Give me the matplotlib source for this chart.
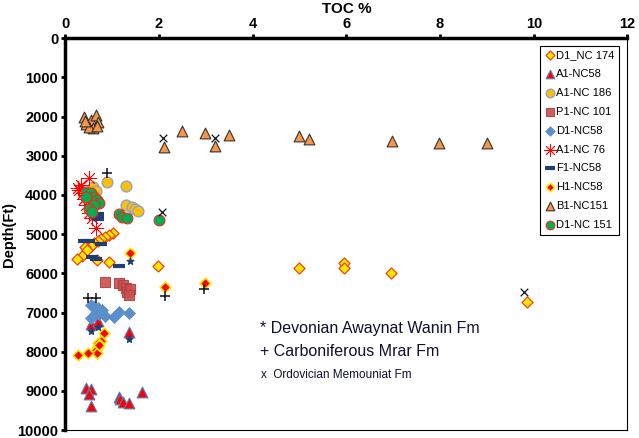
import matplotlib.pyplot as plt

plt.rcParams['font.family'] = ['Liberation Sans', 'DejaVu Sans']

# TOC (%) and depth (ft) per well
d1_nc174_toc = [1.03, 0.93, 0.85, 0.76, 0.69, 0.61, 0.55, 0.42, 0.46, 0.35, 0.25,
                0.68, 0.93, 1.99, 4.99, 5.96, 5.96, 6.95, 9.85]
d1_nc174_depth = [4967, 5025, 5077, 5128, 5171, 5222, 5298, 5324, 5408, 5561, 5640,
                  5663, 5714, 5816, 5867, 5740, 5867, 5995, 6735]

a1_nc58_toc = [0.56, 0.69, 1.36, 0.44, 0.56, 0.51, 0.56, 1.15, 1.18, 1.24, 1.36, 1.64]
a1_nc58_depth = [7296, 7211, 7492, 8936, 8962, 9082, 9388, 9150, 9217, 9277, 9320, 9022]

a1_nc186_toc = [0.90, 1.29, 1.29, 1.43, 1.48, 1.55, 0.59, 0.66]
a1_nc186_depth = [3665, 3776, 4260, 4320, 4371, 4413, 3810, 3900]

p1_nc101_toc = [0.85, 1.15, 1.24, 1.29, 1.32, 1.39, 1.36]
p1_nc101_depth = [6216, 6242, 6301, 6386, 6471, 6411, 6556]

d1_nc58_toc = [0.55, 0.62, 0.70, 0.78, 0.72, 0.55, 1.04, 1.15, 1.36, 0.66, 0.85]
d1_nc58_depth = [6811, 6854, 6896, 6939, 7041, 7151, 7109, 6981, 7023, 7000, 7080]

a1_nc76_toc = [0.51, 0.34, 0.30, 0.37, 0.44, 0.51, 0.58, 0.65, 0.28, 0.40]
a1_nc76_depth = [3580, 3750, 3878, 3963, 4260, 4473, 4600, 4855, 3820, 4100]

f1_nc58_toc = [0.69, 0.70, 0.69, 0.41, 0.76, 0.58, 0.65, 1.15, 0.50]
f1_nc58_depth = [4490, 4558, 4625, 5171, 5263, 5578, 5646, 5816, 5171]

h1_nc58_toc = [1.39, 2.13, 2.98, 0.82, 0.76, 0.69, 0.70, 0.65, 0.68, 0.48, 0.27, 0.73]
h1_nc58_depth = [5493, 6360, 6250, 7517, 7721, 7789, 7874, 7959, 8027, 8043, 8087, 7820]

b1_nc151_toc = [0.40, 0.45, 0.55, 0.65, 0.70, 0.60, 0.50, 0.42, 0.68,
                2.50, 2.10, 2.99, 3.20, 3.49, 4.99, 5.20, 6.98, 7.98, 9.00]
b1_nc151_depth = [2000, 2200, 2100, 1950, 2150, 2300, 2280, 2120, 2250,
                  2364, 2772, 2415, 2755, 2474, 2500, 2577, 2628, 2670, 2679]

d1_nc151_toc = [0.44, 0.55, 0.62, 0.68, 0.72, 0.62, 0.51, 0.58, 0.44, 1.15, 1.22, 1.32, 2.01]
d1_nc151_depth = [3920, 3963, 4047, 4133, 4201, 4260, 4371, 4430, 4047, 4490, 4558, 4600, 4643]

# formation markers
devonian_toc = [1.39, 0.55, 0.69, 1.36]
devonian_depth = [5689, 7474, 7370, 7679]
carbon_toc = [0.89, 0.49, 0.65, 2.13, 2.96]
carbon_depth = [3444, 6640, 6640, 6582, 6403]
ordov_toc = [2.09, 3.19, 2.07, 9.80]
ordov_depth = [2551, 2551, 4439, 6480]

fig = plt.figure(figsize=(6.39, 4.38), dpi=100)
ax = fig.add_axes([0.102, 0.018, 0.880, 0.895])

ax.scatter(d1_nc174_toc, d1_nc174_depth, marker='D', s=32, c='#FFE800',
           edgecolors='#FF3000', linewidths=0.8, label='D1_NC 174', zorder=3)
ax.scatter(a1_nc58_toc, a1_nc58_depth, marker='^', s=60, c='#FF0000',
           edgecolors='#4F81BD', linewidths=0.8, label='A1-NC58', zorder=3)
ax.scatter(a1_nc186_toc, a1_nc186_depth, marker='o', s=60, c='#FFC000',
           edgecolors='#8EA4C8', linewidths=1, label='A1-NC 186', zorder=3)
ax.scatter(p1_nc101_toc, p1_nc101_depth, marker='s', s=60, c='#C8504F',
           edgecolors='#B04040', linewidths=0.8, alpha=0.9, label='P1-NC 101', zorder=3)
ax.scatter(d1_nc58_toc, d1_nc58_depth, marker='D', s=38, c='#5B8FCB',
           edgecolors='#5B8FCB', linewidths=0.5, label='D1-NC58', zorder=3)
ax.scatter(a1_nc76_toc, a1_nc76_depth, marker=(8, 2, 0), s=110, c='#FF0000',
           linewidths=0.6, label='A1-NC 76', zorder=3)
ax.scatter(f1_nc58_toc, f1_nc58_depth, marker='_', s=70, c='#1F3E74',
           linewidths=3, label='F1-NC58', zorder=3)
ax.scatter(h1_nc58_toc, h1_nc58_depth, marker='D', s=30, c='#FF0000',
           edgecolors='#FFE800', linewidths=1.2, label='H1-NC58', zorder=3)
ax.scatter(b1_nc151_toc, b1_nc151_depth, marker='^', s=60, c='#F79646',
           edgecolors='#333333', linewidths=0.8, label='B1-NC151', zorder=3)
ax.scatter(d1_nc151_toc, d1_nc151_depth, marker='o', s=60, c='#00B050',
           edgecolors='#FF2020', linewidths=0.8, label='D1-NC 151', zorder=3)

ax.scatter(devonian_toc, devonian_depth, marker='*', s=25, c='#1F3E74', zorder=4)
ax.scatter(carbon_toc, carbon_depth, marker='+', s=45, c='#101020', linewidths=1.1, zorder=4)
ax.scatter(ordov_toc, ordov_depth, marker='x', s=30, c='#101020', linewidths=0.9, zorder=4)

ax.text(4.15, 7398, '* Devonian Awaynat Wanin Fm', fontsize=11.5, color='#101030', va='center')
ax.text(4.15, 7985, '+ Carboniferous Mrar Fm', fontsize=11.5, color='#101030', va='center')
ax.text(4.17, 8600, 'x  Ordovician Memouniat Fm', fontsize=8.5, color='#101030', va='center')

ax.set_xlim(0, 12)
ax.set_ylim(10000, 0)
ax.set_xticks(range(0, 13, 2))
ax.set_yticks(range(0, 10001, 1000))
ax.xaxis.tick_top()
ax.xaxis.set_label_position('top')
ax.tick_params(axis='both', length=3, width=2, labelsize=10.5, pad=2)
for lab in ax.get_xticklabels() + ax.get_yticklabels():
    lab.set_fontweight('bold')
ax.set_xlabel('TOC %', fontsize=11, fontweight='bold', labelpad=3)
ax.set_ylabel('Depth(Ft)', fontsize=10.5, fontweight='bold', labelpad=1)

for side in ['left', 'top']:
    ax.spines[side].set_linewidth(2.5)
for side in ['right', 'bottom']:
    ax.spines[side].set_linewidth(0.8)

leg = ax.legend(loc='upper right', fontsize=8, frameon=True, fancybox=False,
                edgecolor='black', framealpha=1, handletextpad=0.1,
                handlelength=1, labelspacing=0.8, borderpad=0.4,
                bbox_to_anchor=(0.995, 0.995), markerscale=0.8)
leg.get_frame().set_linewidth(0.8)

fig.savefig('out.png', dpi=100)
